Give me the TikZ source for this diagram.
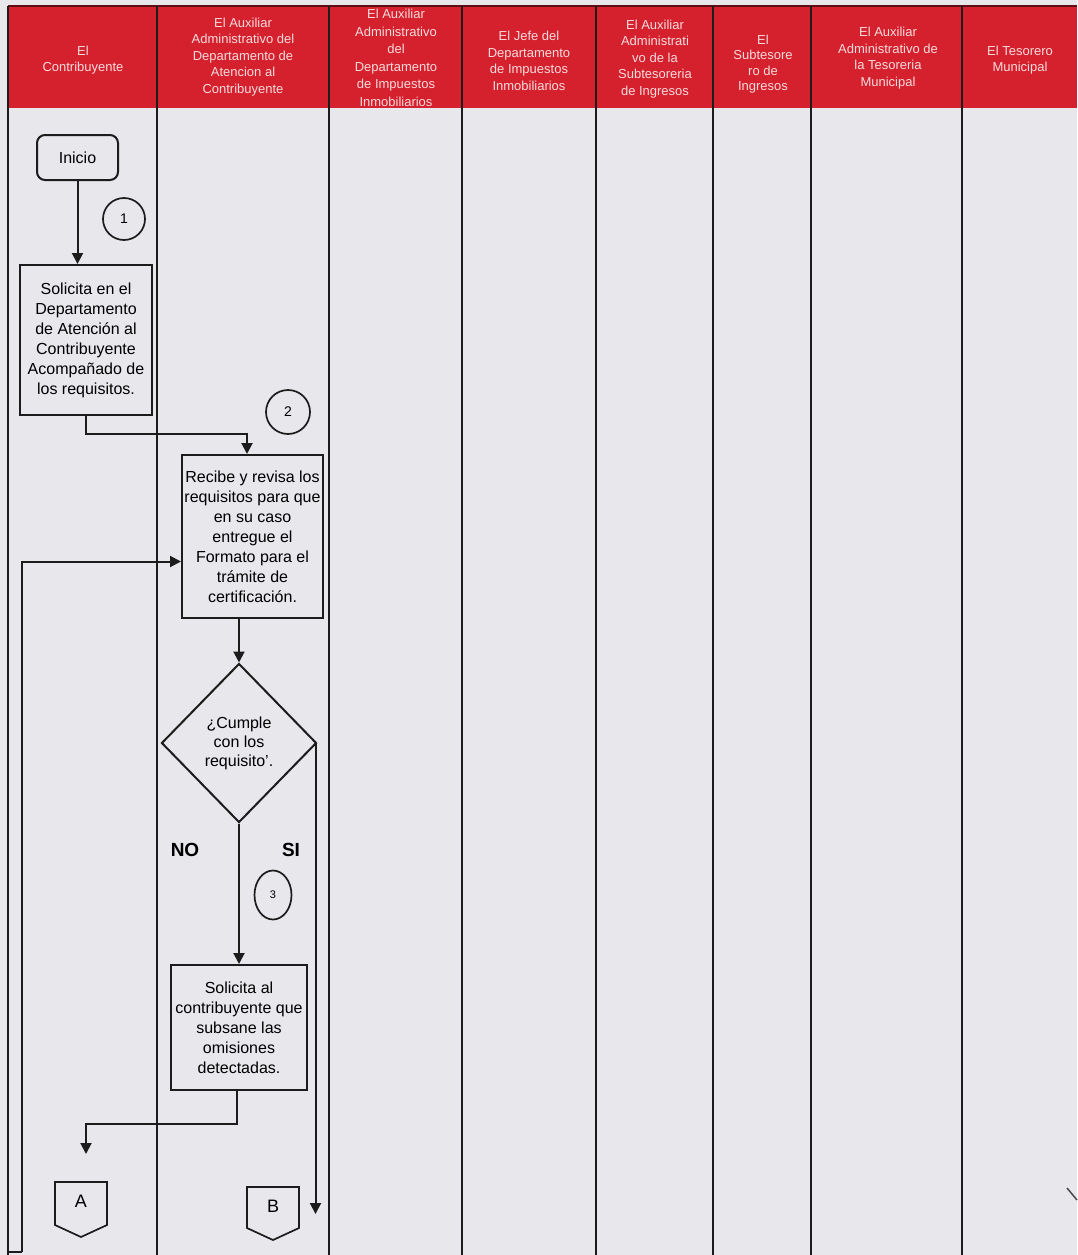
\documentclass[tikz,border=0pt]{standalone}
\usepackage{fontspec}
\setmainfont{Liberation Sans}
\usetikzlibrary{arrows.meta,shapes.geometric}
\definecolor{paper}{RGB}{231,231,236}
\definecolor{hdrred}{RGB}{213,32,46}
\definecolor{hdrtext}{RGB}{247,220,220}
\definecolor{ink}{RGB}{28,28,28}

\begin{document}
\begin{tikzpicture}[x=1pt,y=-1pt,
  lane/.style={draw=ink,line width=2pt},
  hdrlabel/.style={text=hdrtext,align=center,inner sep=0pt,
    font=\fontsize{13}{16.5}\selectfont},
  procbox/.style={draw=ink,line width=2pt,align=center,inner sep=0pt,
    font=\fontsize{16}{20}\selectfont},
  startbox/.style={procbox,rounded corners=8pt},
  decision/.style={diamond,draw=ink,line width=2pt,align=center,inner sep=0pt,
    minimum width=155pt,minimum height=159pt,font=\fontsize{16}{19}\selectfont},
  stepmark/.style={circle,draw=ink,line width=1.7pt,inner sep=0pt,
    minimum size=42pt,font=\fontsize{14}{16}\selectfont},
  branchlabel/.style={font=\bfseries\fontsize{19}{22}\selectfont,inner sep=0pt},
  pagelabel/.style={inner sep=0pt,font=\fontsize{18}{20}\selectfont},
  arr/.style={draw=ink,line width=2pt,-{Triangle[length=11pt,width=11pt]}},
  flow/.style={draw=ink,line width=2pt}
]
\useasboundingbox (0,0) rectangle (1077,1255);
\fill[paper] (0,0) rectangle (1077,1255);

% header band
\fill[hdrred] (8,6) rectangle (1077,108);
\draw[draw=hdrred!45!black,line width=1.2pt] (8,6) -- (1077,6);

% lane separators
\foreach \x in {8,157,329,462,596,713,811,962}
  \draw[lane] (\x,6) -- (\x,1255);

% lane titles
\node[hdrlabel] (h1) at (83,60)   {El\\Contribuyente};
\node[hdrlabel] (h2) at (243,57)  {El Auxiliar\\Administrativo del\\Departamento de\\Atencion al\\Contribuyente};
\node[hdrlabel,font=\fontsize{13}{17.5}\selectfont] (h3) at (396,58) {El Auxiliar\\Administrativo\\del\\Departamento\\de Impuestos\\Inmobiliarios};
\node[hdrlabel] (h4) at (529,61)  {El Jefe del\\Departamento\\de Impuestos\\Inmobiliarios};
\node[hdrlabel] (h5) at (655,59)  {El Auxiliar\\Administrati\\vo de la\\Subtesoreria\\de Ingresos};
\node[hdrlabel,font=\fontsize{13}{15.5}\selectfont] (h6) at (763,64) {El\\Subtesore\\ro de\\Ingresos};
\node[hdrlabel] (h7) at (888,58)  {El Auxiliar\\Administrativo de\\la Tesoreria\\Municipal};
\node[hdrlabel] (h8) at (1020,60) {El Tesorero\\Municipal};

% flow nodes
\node[startbox,minimum width=81pt,minimum height=45pt] (inicio) at (77.5,157.5) {Inicio};
\node[procbox,minimum width=132pt,minimum height=150pt] (box1) at (86,340)
  {Solicita en el\\Departamento\\de Atención al\\Contribuyente\\Acompañado de\\los requisitos.};
\node[procbox,minimum width=141pt,minimum height=163pt] (box2) at (252.5,536.5)
  {Recibe y revisa los\\requisitos para que\\en su caso\\entregue el\\Formato para el\\trámite de\\certificación.};
\node[decision] (dia) at (239,743) {¿Cumple\\con los\\requisito’.};
\node[procbox,minimum width=136pt,minimum height=125pt] (box3) at (239,1027.5)
  {Solicita al\\contribuyente que\\subsane las\\omisiones\\detectadas.};

\node[stepmark] (c1) at (124,219) {1};
\node[stepmark,minimum size=44pt] (c2) at (288,412) {2};
\node[ellipse,draw=ink,line width=1.7pt,minimum width=37pt,minimum height=49pt,
  inner sep=0pt,font=\fontsize{11}{12}\selectfont] (c3) at (273,895) {3};

\node[branchlabel] (no) at (185,850) {NO};
\node[branchlabel] (si) at (291,850) {SI};

% off-page connectors
\node[pagelabel] (A) at (81,1201) {A};
\draw[flow,line width=1.7pt,shift={(A.center)}]
  (-26,-19) -- (26,-19) -- (26,24) -- (0,36) -- (-26,24) -- cycle;
\node[pagelabel] (B) at (273,1206) {B};
\draw[flow,line width=1.7pt,shift={(B.center)}]
  (-26,-19) -- (26,-19) -- (26,22) -- (0,34) -- (-26,22) -- cycle;

% free ends of connectors
\coordinate (loopstart) at (22,1252);
\coordinate (toA) at (86,1154);
\coordinate (toB) at (315,1214);

% connectors
\draw[arr] (inicio.south) -- (inicio.south |- box1.north);
\draw[arr] (box1.south) -- ++(0,18) -| ([xshift=-5.5pt]box2.north);
\draw[flow] (8,1252) -- (loopstart);
\draw[arr] (loopstart) |- ([yshift=-25pt]box2.west);
\draw[arr] (box2.south -| dia.north) -- (dia.north);
\draw[arr] (dia.south) -- (box3.north);
\draw[arr] ([xshift=-2pt]dia.east) -- ([xshift=-2pt]dia.east |- toB);
\draw[arr] ([xshift=-2pt]box3.south) -- ++(0,33) -| (toA);

% stray pen stroke at the lower right edge
\draw[draw=ink!80,line width=1.5pt] (1067,1188) -- (1077,1200);
\end{tikzpicture}
\end{document}
